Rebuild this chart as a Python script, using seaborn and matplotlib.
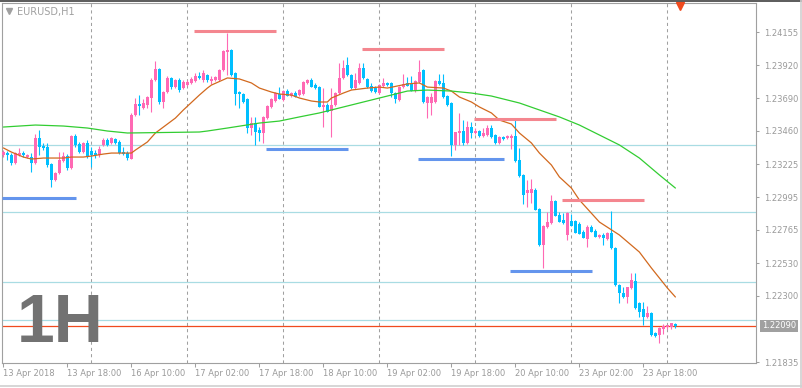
import numpy as np
import matplotlib
matplotlib.use("Agg")
import matplotlib.pyplot as plt
import matplotlib.transforms as mtransforms
from matplotlib.lines import Line2D
import seaborn as sns

# ---------------- data (EURUSD H1, 13-24 Apr 2018) ----------------
opens = [
    1.23290, 1.23304, 1.23290, 1.23234, 1.23290, 1.23304, 1.23276, 1.23276, 1.23234, 1.23410,
    1.23354, 1.23347, 1.23227, 1.23115, 1.23164, 1.23248, 1.23283, 1.23199, 1.23424, 1.23368,
    1.23311, 1.23375, 1.23318, 1.23304, 1.23290, 1.23361, 1.23396, 1.23375, 1.23403, 1.23382,
    1.23311, 1.23304, 1.23262, 1.23572, 1.23649, 1.23621, 1.23642, 1.23691, 1.23818, 1.23895,
    1.23663, 1.23733, 1.23832, 1.23768, 1.23818, 1.23761, 1.23782, 1.23797, 1.23811, 1.23846,
    1.23818, 1.23853, 1.23811, 1.23818, 1.23818, 1.23888, 1.24014, 1.24028, 1.23867, 1.23733,
    1.23719, 1.23684, 1.23480, 1.23515, 1.23466, 1.23445, 1.23550, 1.23628, 1.23670, 1.23719,
    1.23677, 1.23740, 1.23705, 1.23726, 1.23712, 1.23719, 1.23797, 1.23818, 1.23782, 1.23768,
    1.23628, 1.23642, 1.23600, 1.23642, 1.23726, 1.23832, 1.23923, 1.23853, 1.23761, 1.23797,
    1.23902, 1.23825, 1.23775, 1.23761, 1.23726, 1.23775, 1.23797, 1.23797, 1.23726, 1.23677,
    1.23768, 1.23797, 1.23790, 1.23740, 1.23804, 1.23888, 1.23656, 1.23656, 1.23663, 1.23811,
    1.23797, 1.23705, 1.23656, 1.23361, 1.23445, 1.23459, 1.23375, 1.23487, 1.23445, 1.23459,
    1.23424, 1.23431, 1.23480, 1.23431, 1.23375, 1.23417, 1.23410, 1.23410, 1.23424, 1.23255,
    1.23150, 1.23023, 1.23023, 1.23044, 1.22911, 1.22658, 1.22784, 1.22812, 1.22967, 1.22869,
    1.22833, 1.22728, 1.22826, 1.22826, 1.22805, 1.22749, 1.22700, 1.22784, 1.22756, 1.22714,
    1.22728, 1.22700, 1.22742, 1.22637, 1.22376, 1.22320, 1.22292, 1.22355, 1.22405, 1.22250,
    1.22208, 1.22151, 1.22180, 1.22039, 1.22025, 1.22067, 1.22081, 1.22081, 1.22102]
highs = [
    1.23325, 1.23318, 1.23304, 1.23311, 1.23340, 1.23318, 1.23297, 1.23304, 1.23438, 1.23466,
    1.23375, 1.23375, 1.23234, 1.23171, 1.23311, 1.23311, 1.23297, 1.23431, 1.23438, 1.23382,
    1.23382, 1.23396, 1.23347, 1.23325, 1.23354, 1.23410, 1.23410, 1.23417, 1.23410, 1.23396,
    1.23347, 1.23318, 1.23586, 1.23691, 1.23712, 1.23684, 1.23705, 1.23832, 1.23951, 1.23902,
    1.23740, 1.23846, 1.23839, 1.23825, 1.23832, 1.23818, 1.23818, 1.23839, 1.23867, 1.23874,
    1.23888, 1.23860, 1.23846, 1.23846, 1.23895, 1.24028, 1.24148, 1.24035, 1.23874, 1.23740,
    1.23726, 1.23691, 1.23558, 1.23558, 1.23487, 1.23565, 1.23642, 1.23691, 1.23733, 1.23768,
    1.23747, 1.23754, 1.23733, 1.23740, 1.23754, 1.23811, 1.23825, 1.23832, 1.23797, 1.23775,
    1.23761, 1.23656, 1.23761, 1.23733, 1.23937, 1.23958, 1.23979, 1.23860, 1.23867, 1.23937,
    1.23937, 1.23832, 1.23797, 1.23775, 1.23790, 1.23832, 1.23804, 1.23804, 1.23733, 1.23775,
    1.23860, 1.23839, 1.23846, 1.23818, 1.23958, 1.23895, 1.23705, 1.23726, 1.23818, 1.23860,
    1.23860, 1.23712, 1.23663, 1.23452, 1.23586, 1.23536, 1.23529, 1.23522, 1.23480, 1.23466,
    1.23480, 1.23501, 1.23501, 1.23438, 1.23424, 1.23424, 1.23431, 1.23438, 1.23536, 1.23340,
    1.23157, 1.23115, 1.23122, 1.23058, 1.22918, 1.22798, 1.22890, 1.23009, 1.22974, 1.22890,
    1.22883, 1.22890, 1.22876, 1.22833, 1.22819, 1.22763, 1.22798, 1.22798, 1.22770, 1.22735,
    1.22742, 1.22749, 1.22897, 1.22644, 1.22383, 1.22362, 1.22362, 1.22461, 1.22461, 1.22257,
    1.22257, 1.22229, 1.22187, 1.22046, 1.22081, 1.22102, 1.22095, 1.22109, 1.22109]
lows = [
    1.23276, 1.23255, 1.23220, 1.23227, 1.23283, 1.23276, 1.23269, 1.23171, 1.23227, 1.23290,
    1.23325, 1.23206, 1.23065, 1.23108, 1.23157, 1.23241, 1.23185, 1.23192, 1.23347, 1.23304,
    1.23304, 1.23269, 1.23206, 1.23269, 1.23276, 1.23354, 1.23354, 1.23368, 1.23368, 1.23297,
    1.23290, 1.23255, 1.23262, 1.23565, 1.23572, 1.23614, 1.23621, 1.23593, 1.23811, 1.23649,
    1.23621, 1.23726, 1.23754, 1.23761, 1.23733, 1.23754, 1.23775, 1.23790, 1.23804, 1.23825,
    1.23804, 1.23804, 1.23790, 1.23811, 1.23811, 1.23881, 1.23853, 1.23846, 1.23642, 1.23621,
    1.23656, 1.23445, 1.23431, 1.23361, 1.23389, 1.23375, 1.23543, 1.23621, 1.23663, 1.23684,
    1.23670, 1.23705, 1.23698, 1.23698, 1.23705, 1.23712, 1.23790, 1.23768, 1.23754, 1.23628,
    1.23487, 1.23593, 1.23417, 1.23635, 1.23719, 1.23825, 1.23846, 1.23754, 1.23754, 1.23790,
    1.23825, 1.23761, 1.23733, 1.23726, 1.23719, 1.23768, 1.23775, 1.23698, 1.23656, 1.23670,
    1.23761, 1.23775, 1.23740, 1.23733, 1.23797, 1.23656, 1.23550, 1.23572, 1.23656, 1.23782,
    1.23691, 1.23635, 1.23283, 1.23325, 1.23361, 1.23361, 1.23368, 1.23410, 1.23438, 1.23417,
    1.23417, 1.23424, 1.23410, 1.23368, 1.23368, 1.23396, 1.23403, 1.23333, 1.23241, 1.23136,
    1.22946, 1.22925, 1.22953, 1.22904, 1.22651, 1.22496, 1.22777, 1.22805, 1.22861, 1.22819,
    1.22805, 1.22693, 1.22791, 1.22742, 1.22735, 1.22707, 1.22644, 1.22749, 1.22714, 1.22707,
    1.22658, 1.22693, 1.22630, 1.22369, 1.22250, 1.22285, 1.22250, 1.22348, 1.22208, 1.22151,
    1.22095, 1.22144, 1.22018, 1.22011, 1.21969, 1.22032, 1.22067, 1.22067, 1.22074]
closes = [
    1.23311, 1.23290, 1.23234, 1.23304, 1.23304, 1.23290, 1.23290, 1.23234, 1.23410, 1.23347,
    1.23340, 1.23220, 1.23115, 1.23164, 1.23255, 1.23283, 1.23199, 1.23424, 1.23361, 1.23311,
    1.23375, 1.23283, 1.23290, 1.23290, 1.23333, 1.23396, 1.23361, 1.23410, 1.23375, 1.23304,
    1.23297, 1.23269, 1.23572, 1.23649, 1.23635, 1.23656, 1.23698, 1.23818, 1.23895, 1.23663,
    1.23733, 1.23832, 1.23768, 1.23818, 1.23747, 1.23804, 1.23804, 1.23825, 1.23846, 1.23832,
    1.23867, 1.23818, 1.23825, 1.23839, 1.23888, 1.24021, 1.24028, 1.23853, 1.23719, 1.23719,
    1.23663, 1.23480, 1.23515, 1.23452, 1.23445, 1.23558, 1.23635, 1.23684, 1.23726, 1.23684,
    1.23740, 1.23705, 1.23726, 1.23698, 1.23747, 1.23804, 1.23818, 1.23768, 1.23761, 1.23628,
    1.23642, 1.23593, 1.23642, 1.23726, 1.23832, 1.23902, 1.23853, 1.23761, 1.23818, 1.23902,
    1.23832, 1.23768, 1.23740, 1.23733, 1.23782, 1.23797, 1.23782, 1.23726, 1.23684, 1.23768,
    1.23790, 1.23775, 1.23740, 1.23811, 1.23874, 1.23663, 1.23698, 1.23698, 1.23811, 1.23790,
    1.23698, 1.23642, 1.23361, 1.23452, 1.23459, 1.23375, 1.23487, 1.23445, 1.23459, 1.23424,
    1.23445, 1.23480, 1.23417, 1.23375, 1.23417, 1.23403, 1.23424, 1.23424, 1.23248, 1.23143,
    1.23009, 1.23044, 1.23051, 1.22904, 1.22658, 1.22791, 1.22819, 1.22967, 1.22861, 1.22819,
    1.22812, 1.22883, 1.22791, 1.22742, 1.22735, 1.22707, 1.22784, 1.22749, 1.22714, 1.22728,
    1.22707, 1.22742, 1.22637, 1.22376, 1.22320, 1.22292, 1.22362, 1.22412, 1.22215, 1.22187,
    1.22151, 1.22180, 1.22025, 1.22018, 1.22074, 1.22088, 1.22095, 1.22109, 1.22090]

# moving averages (bar index, price)
ma_fast_idx = [0, 2, 5, 7, 10, 12, 15, 17, 20, 22, 25, 27, 30, 32, 33, 36, 38, 40, 43, 45,
               49, 51, 52, 56, 59, 62, 64, 67, 69, 72, 74, 77, 79, 81, 82, 85, 87, 91, 94, 96,
               101, 104, 106, 110, 112, 114, 117, 119, 122, 124, 127, 129, 132, 134, 137, 139,
               142, 144, 149, 154, 159, 162, 166, 168]
ma_fast_val = [1.23340, 1.23311, 1.23276, 1.23262, 1.23269, 1.23269, 1.23269, 1.23276, 1.23276, 1.23283,
               1.23297, 1.23304, 1.23304, 1.23304, 1.23325, 1.23382, 1.23445, 1.23487, 1.23550, 1.23607,
               1.23712, 1.23761, 1.23782, 1.23832, 1.23825, 1.23797, 1.23761, 1.23733, 1.23719, 1.23712,
               1.23691, 1.23670, 1.23663, 1.23663, 1.23691, 1.23726, 1.23747, 1.23761, 1.23768, 1.23761,
               1.23790, 1.23797, 1.23768, 1.23761, 1.23740, 1.23698, 1.23663, 1.23628, 1.23586, 1.23536,
               1.23508, 1.23445, 1.23375, 1.23304, 1.23220, 1.23136, 1.23058, 1.22974, 1.22819, 1.22728,
               1.22608, 1.22496, 1.22355, 1.22292]
ma_slow_idx = [0, 8, 15, 21, 26, 31, 49, 51, 56, 64, 69, 74, 79, 84, 89, 94, 96, 101, 106, 112,
               117, 122, 126, 129, 134, 139, 144, 149, 154, 159, 164, 168]
ma_slow_val = [1.23487, 1.23501, 1.23494, 1.23480, 1.23459, 1.23445, 1.23452, 1.23459, 1.23480, 1.23515,
               1.23529, 1.23558, 1.23586, 1.23621, 1.23656, 1.23691, 1.23705, 1.23740, 1.23747, 1.23740,
               1.23726, 1.23705, 1.23677, 1.23656, 1.23607, 1.23558, 1.23501, 1.23431, 1.23361, 1.23269,
               1.23150, 1.23058]

# support / resistance segments (bar range, price)
res_start = [48, 90, 118, 140]
res_end = [68, 110, 138, 160]
res_price = [1.24162, 1.24035, 1.23543, 1.22974]
sup_start = [0, 66, 104, 127]
sup_end = [18, 86, 125, 147]
sup_price = [1.22985, 1.23333, 1.23262, 1.22475]

levels = [1.23364, 1.22893, 1.22398, 1.22127]
current_price = 1.22090
day_breaks = [22, 46, 70, 94, 118, 142, 166]

xtick_pos = [0, 16, 32, 48, 64, 80, 96, 112, 128, 144, 160]
xtick_labels = ["13 Apr 2018", "13 Apr 18:00", "16 Apr 10:00", "17 Apr 02:00", "17 Apr 18:00",
                "18 Apr 10:00", "19 Apr 02:00", "19 Apr 18:00", "20 Apr 10:00", "23 Apr 02:00",
                "23 Apr 18:00"]
ytick_vals = [1.24155, 1.23920, 1.23690, 1.23460, 1.23225, 1.22995, 1.22765, 1.22530, 1.22300, 1.21835]

# ---------------- drawing ----------------
sns.set_style("ticks")
plt.rcParams["font.family"] = ["DejaVu Sans"]

W, H = 803, 388
fig = plt.figure(figsize=(W / 100, H / 100), dpi=100)
fig.patch.set_facecolor("white")
ax = fig.add_axes([2 / W, 25 / H, 754 / W, 360 / H])
ax.set_facecolor("white")

o = np.array(opens); hi = np.array(highs); lo = np.array(lows); c = np.array(closes)
idx = np.arange(len(o))
UP, DOWN = "#FF69B4", "#00BFFF"
cols = np.where(c >= o, UP, DOWN)

GRID = "#A0A0A0"
for d in day_breaks:
    ax.axvline(d, color=GRID, lw=0.75, ls=(0, (3, 3)), zorder=1)
for lv in levels:
    ax.axhline(lv, color="#A9DCE3", lw=0.9, zorder=1)
ax.axhline(current_price, color="#F04A1E", lw=0.9, zorder=1.5)

ax.vlines(idx, lo, hi, colors=cols, lw=0.8, zorder=2)
body_bottom = np.minimum(o, c)
body_h = np.maximum(np.abs(c - o), 0.00007)
ax.bar(idx, body_h, bottom=body_bottom, width=0.75, color=cols, linewidth=0, zorder=3)

sns.lineplot(x=ma_fast_idx, y=ma_fast_val, ax=ax, color="#D2691E", lw=0.9, zorder=4,
             estimator=None, sort=False)
sns.lineplot(x=ma_slow_idx, y=ma_slow_val, ax=ax, color="#32CD32", lw=0.9, zorder=4,
             estimator=None, sort=False)

for s, e, p in zip(res_start, res_end, res_price):
    ax.plot([s - 0.3, e + 0.2], [p, p], color="#F4868F", lw=2.2, solid_capstyle="butt", zorder=5)
for s, e, p in zip(sup_start, sup_end, sup_price):
    ax.plot([s - 0.3, e + 0.2], [p, p], color="#6495ED", lw=2.2, solid_capstyle="butt", zorder=5)

ax.set_xlim(-0.35, 188.15)
ax.set_ylim(1.21828, 1.24359)

for sp in ax.spines.values():
    sp.set_color(GRID)
    sp.set_linewidth(0.8)

TXT = "#9A9A9A"
ax.set_xticks(xtick_pos)
ax.set_xticklabels(xtick_labels, ha="left", fontsize=6, color=TXT)
ax.tick_params(axis="x", bottom=True, length=3, width=0.75, color=GRID, pad=1.5, direction="out")
ax.yaxis.tick_right()
ax.set_yticks(ytick_vals)
ax.set_yticklabels([f"{v:.5f}" for v in ytick_vals], fontsize=6, color=TXT)
ax.tick_params(axis="y", right=True, left=False, length=2.2, width=0.75, color=GRID, pad=3.5,
               direction="out")
ax.set_xlabel("")
ax.set_ylabel("")

# current price tag
trans = mtransforms.blended_transform_factory(ax.transAxes, ax.transData)
ax.text(1.0 + 6 / 754, current_price, f"{current_price:.5f}", transform=trans, ha="left",
        va="center", fontsize=6, color="white", zorder=6, clip_on=False,
        bbox=dict(boxstyle="square,pad=0.18", fc="#A0A0A0", ec="none"))

# big timeframe watermark
fig.text(17 / W, 1 - 342 / H, "1H", fontsize=49, fontweight="bold",
         family=["Liberation Sans", "DejaVu Sans"], color="#727272", ha="left", va="baseline",
         zorder=0)

# symbol caption
fig.text(17 / W, 1 - 11.5 / H, "EURUSD,H1", fontsize=7, color="#A0A0A0", ha="left", va="center")
fig.add_artist(Line2D([9.5 / W], [1 - 11 / H], marker="v", ms=4.5, color="#A0A0A0",
                      transform=fig.transFigure, lw=0))
# shift marker
fig.add_artist(Line2D([680 / W], [1 - 6 / H], marker="v", ms=6, color="#F04A1E",
                      transform=fig.transFigure, lw=0))

# window borders
fig.add_artist(Line2D([0, 1], [1 - 0.7 / H] * 2, color="#404040", lw=1.2, transform=fig.transFigure))
fig.add_artist(Line2D([0, 1], [1 - 386 / H] * 2, color="#D0D0D0", lw=1.2, transform=fig.transFigure))
fig.add_artist(Line2D([801 / W] * 2, [0, 1], color="#D0D0D0", lw=1.2, transform=fig.transFigure))

fig.savefig("out.png", dpi=100)
